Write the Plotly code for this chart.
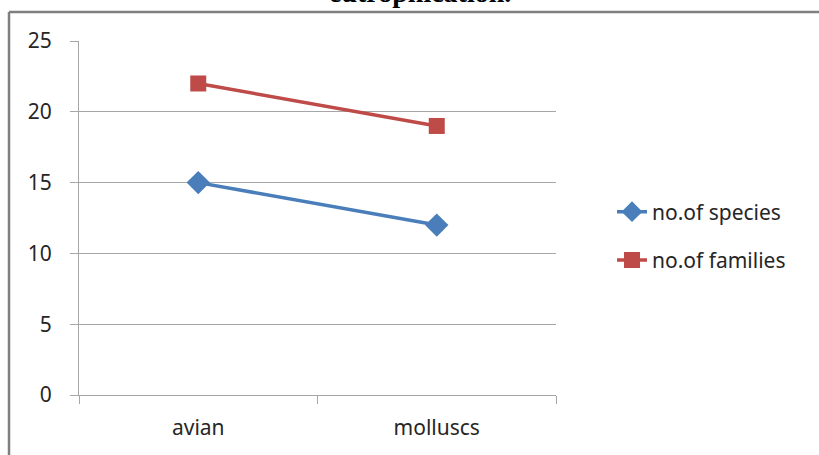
import plotly.graph_objects as go

# Survey counts per group
categories = ["avian", "molluscs"]
species = [15, 12]
families = [22, 19]
y_ticks = [0, 5, 10, 15, 20, 25]

W, H = 819, 455
L, R, T, B = 79, 263, 41, 60
pw, ph = W - L - R, H - T - B


def px_x(x):
    return (x - L) / pw


def px_y(y):
    return (H - B - y) / ph


label_font = dict(family="Noto Sans, sans-serif", size=21, color="#262626")

fig = go.Figure()
fig.add_trace(go.Scatter(
    x=categories, y=species, name="no.of species", mode="lines+markers",
    line=dict(color="#4A7EBB", width=3.5),
    marker=dict(symbol="diamond", size=18, color="#4A7EBB"),
    legendgroup="a",
))
fig.add_trace(go.Scatter(
    x=categories, y=families, name="no.of families", mode="lines+markers",
    line=dict(color="#BE4B48", width=3.5),
    marker=dict(symbol="square", size=16, color="#BE4B48"),
    legendgroup="b",
))

fig.update_layout(
    width=W, height=H,
    margin=dict(l=L, r=R, t=T, b=B),
    paper_bgcolor="white", plot_bgcolor="white",
    font=label_font,
    legend=dict(
        x=px_x(612), y=px_y(236), xanchor="left", yanchor="middle",
        traceorder="grouped", tracegroupgap=18,
        font=label_font, bgcolor="rgba(0,0,0,0)",
    ),
    xaxis=dict(
        type="category", range=[-0.5, 1.5],
        showgrid=False, showline=True, linecolor="#A6A6A6", linewidth=1,
        ticks="outside", ticklen=8, tickcolor="#A6A6A6", tickson="boundaries",
        ticklabelstandoff=14, tickfont=label_font,
    ),
    yaxis=dict(
        range=[0, 25], tickvals=y_ticks,
        showgrid=True, gridcolor="#A6A6A6", gridwidth=1,
        showline=True, linecolor="#A6A6A6", linewidth=1,
        ticks="outside", ticklen=8, tickcolor="#A6A6A6",
        ticklabelstandoff=14, tickfont=label_font, zeroline=False,
    ),
    shapes=[
        dict(type="line", xref="paper", yref="paper",
             x0=px_x(9), x1=px_x(W + 5), y0=px_y(12), y1=px_y(12),
             line=dict(color="#7F7F7F", width=2.5)),
        dict(type="line", xref="paper", yref="paper",
             x0=px_x(9), x1=px_x(9), y0=px_y(12), y1=px_y(H + 5),
             line=dict(color="#7F7F7F", width=2.5)),
    ],
    annotations=[
        dict(text="<b>eutrophication.</b>", xref="paper", yref="paper",
             x=px_x(420), y=px_y(10), xanchor="center", yanchor="bottom",
             showarrow=False,
             font=dict(family="Liberation Serif, serif", size=28, color="black")),
    ],
)

fig.write_html("out.html")
